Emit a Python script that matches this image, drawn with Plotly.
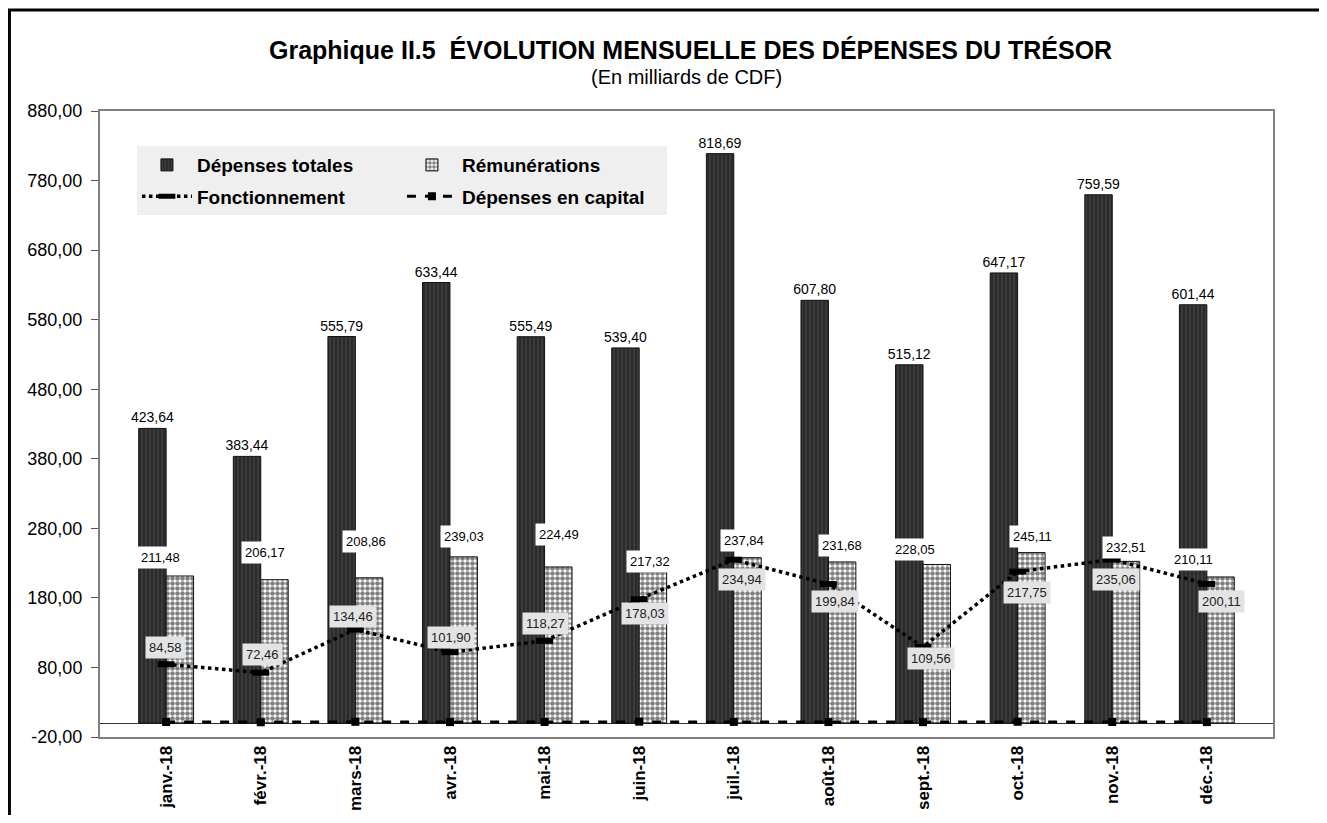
import plotly.graph_objects as go

months = ["janv.-18", "févr.-18", "mars-18", "avr.-18", "mai-18", "juin-18",
          "juil.-18", "août-18", "sept.-18", "oct.-18", "nov.-18", "déc.-18"]
depenses_totales = [423.64, 383.44, 555.79, 633.44, 555.49, 539.40,
                    818.69, 607.80, 515.12, 647.17, 759.59, 601.44]
remunerations = [211.48, 206.17, 208.86, 239.03, 224.49, 217.32,
                 237.84, 231.68, 228.05, 245.11, 232.51, 210.11]
fonctionnement = [84.58, 72.46, 134.46, 101.90, 118.27, 178.03,
                  234.94, 199.84, 109.56, 217.75, 235.06, 200.11]
depenses_capital = [1.5, 1.2, 1.8, 1.4, 1.6, 2.0, 1.7, 1.5, 1.3, 1.9, 1.6, 1.4]

y_ticks = [-20, 80, 180, 280, 380, 480, 580, 680, 780, 880]

# label offsets (pixels) — styling only
rem_dx = [-6, 4, 11, 14, 14, 11, 10, 14, -8, 15, 14, -13]
rem_dy = [18, 27, 36, 20, 32, 10, 17, 16, 15, 16, 14, 17]
fon_dx = [-1, 2, -2, 1, 1, 6, 8, 7, 8, 9, 4, 15]
fon_dy = [17, 18, 13, 15, 17, -14, -20, -17, -12, -21, -20, -18]

FONT = "Liberation Sans, Arial, sans-serif"


def fr(v):
    return f"{v:.2f}".replace(".", ",")


fig = go.Figure()

fig.add_trace(go.Bar(
    x=months, y=depenses_totales, name="Dépenses totales",
    marker=dict(color="#2a2a2a", line=dict(color="#111111", width=1),
                pattern=dict(shape="|", fgcolor="#6e6e6e", size=4, solidity=0.25,
                             fillmode="overlay")),
    text=[fr(v) for v in depenses_totales], textposition="outside",
    constraintext="none",
    textfont=dict(size=14, color="black", family=FONT), cliponaxis=False,
    legend="legend",
))
fig.add_trace(go.Bar(
    x=months, y=remunerations, name="Rémunérations",
    marker=dict(color="white", line=dict(color="#111111", width=1),
                pattern=dict(shape=".", fgcolor="black", size=5, solidity=0.65,
                             fillmode="overlay")),
    legend="legend",
))
fig.add_trace(go.Scatter(
    x=months, y=fonctionnement, name="Fonctionnement", mode="lines+markers",
    line=dict(color="black", width=3.5, dash="dot"),
    marker=dict(symbol="line-ew", size=12, line=dict(color="black", width=6)),
    legend="legend2",
))
fig.add_trace(go.Scatter(
    x=months, y=depenses_capital, name="Dépenses en capital", mode="lines+markers",
    line=dict(color="black", width=3, dash="dash"),
    marker=dict(symbol="square", size=8, color="black"),
    legend="legend2",
))

annotations = []
for i, m in enumerate(months):
    annotations.append(dict(
        x=m, y=remunerations[i], xref="x", yref="y", text=fr(remunerations[i]),
        showarrow=False, bgcolor="white", borderpad=3,
        xshift=rem_dx[i], yshift=rem_dy[i],
        font=dict(size=13, color="black", family=FONT)))
    annotations.append(dict(
        x=m, y=fonctionnement[i], xref="x", yref="y", text=fr(fonctionnement[i]),
        showarrow=False, bgcolor="#e3e3e3", borderpad=3,
        xshift=fon_dx[i], yshift=fon_dy[i],
        font=dict(size=13, color="#222222", family=FONT)))

annotations.append(dict(
    x=0.503, y=1.097, xref="paper", yref="paper", showarrow=False,
    xanchor="center", yanchor="middle",
    text="<b>Graphique II.5 \u00a0ÉVOLUTION MENSUELLE DES DÉPENSES DU TRÉSOR</b>",
    font=dict(size=25, color="black", family=FONT)))
annotations.append(dict(
    x=0.5, y=1.054, xref="paper", yref="paper", showarrow=False,
    xanchor="center", yanchor="middle",
    text="(En milliards de CDF)",
    font=dict(size=20, color="black", family=FONT)))

LEG_FONT = dict(size=19, family=FONT, weight="bold", color="black")

fig.update_layout(
    width=1311, height=807,
    margin=dict(l=92, r=46, t=103, b=78),
    paper_bgcolor="white", plot_bgcolor="white",
    font=dict(family=FONT, color="black"),
    separators=", ",
    barmode="group", bargap=0.42, bargroupgap=0.0,
    annotations=annotations,
    legend=dict(orientation="h", x=0.0315, y=0.944, xanchor="left", yanchor="top",
                bgcolor="#efefef", entrywidth=200, entrywidthmode="pixels",
                font=LEG_FONT, itemwidth=50, tracegroupgap=0),
    legend2=dict(orientation="h", x=0.0315, y=0.894, xanchor="left", yanchor="top",
                 bgcolor="#efefef", entrywidth=200, entrywidthmode="pixels",
                 font=LEG_FONT, itemwidth=50, tracegroupgap=0),
    shapes=[dict(type="rect", xref="paper", yref="paper",
                 x0=-0.0772, x1=1.2, y0=-0.3, y1=1.1613,
                 line=dict(color="black", width=3), fillcolor="rgba(0,0,0,0)",
                 layer="below")],
)

fig.update_xaxes(
    automargin=False,
    showline=True, linecolor="#808080", linewidth=2, mirror=True,
    ticks="", tickangle=-90,
    tickfont=dict(size=17, family=FONT, weight="bold", color="black"),
    showgrid=False,
)
fig.update_yaxes(
    automargin=False,
    range=[-20, 880], tickmode="array", tickvals=y_ticks,
    ticktext=[fr(v) for v in y_ticks],
    showline=True, linecolor="#808080", linewidth=2, mirror=True,
    ticks="outside", ticklen=7, tickcolor="#555555", ticklabelstandoff=5,
    tickfont=dict(size=18, family=FONT, color="black"),
    showgrid=False, zeroline=True, zerolinecolor="#333333", zerolinewidth=1,
)

fig.write_html("out.html")
